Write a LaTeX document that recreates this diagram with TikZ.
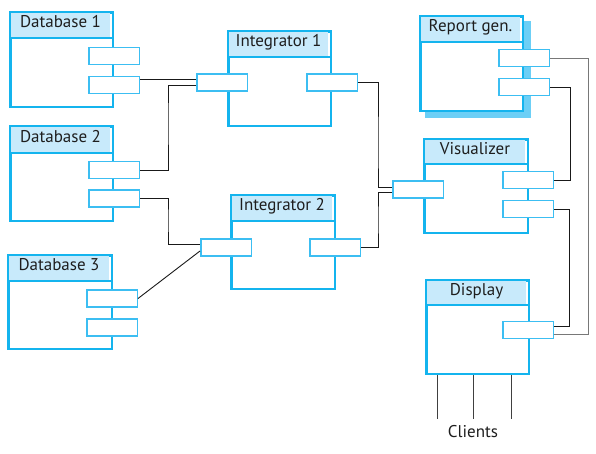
\documentclass[tikz,border=0pt]{standalone}
\usepackage{fontspec}
\setmainfont{PT Sans}
\definecolor{cyanb}{RGB}{20,180,238}
\definecolor{hdrc}{RGB}{200,234,251}
\definecolor{portc}{RGB}{60,190,242}
\definecolor{shadc}{RGB}{108,207,246}
\definecolor{greyw}{RGB}{120,120,120}
\definecolor{txtc}{RGB}{30,30,30}
\tikzset{
  compbox/.style={draw=cyanb, line width=2.8pt, fill=white, inner sep=0pt, anchor=north west},
  hdrfill/.style={fill=hdrc, draw=none, inner sep=0pt, anchor=north west},
  hdrline/.style={draw=cyanb, line width=1.4pt},
  ttl/.style={text=txtc, font=\fontsize{17}{19}\selectfont, text height=0.7em, text depth=0pt, inner sep=0pt},
  port/.style={draw=portc, line width=1.5pt, fill=white, inner sep=0pt, minimum width=50.5pt, minimum height=17.2pt},
  wire/.style={draw=black!90, line width=0.9pt},
  gwire/.style={draw=greyw, line width=0.9pt},
  cwire/.style={draw=black!75, line width=0.9pt},
}
\newcommand\mycomp[7]{%
  \node[compbox, minimum width={(#4-#2-2.8)*1pt}, minimum height={(#5-#3-2.8)*1pt}] (#1) at ({#2+1.4},{#3+1.4}) {};
  \node[hdrfill, minimum width={(#4-#2-5.6)*1pt}, minimum height={(#6-#3-2.8)*1pt}] (#1h) at ({#2+2.8},{#3+2.8}) {};
  \draw[hdrline] ({#2+1},#6) -- ({#4-1},#6);
  \node[ttl] (#1t) at ({(#2+#4)/2},{(#3+#6)/2}) {#7};
}
\begin{document}
\begin{tikzpicture}[x=1pt,y=-1pt]
\useasboundingbox (0,0) rectangle (596,453);
% shadow of report generator
\fill[shadc] (425,21) rectangle (530.5,118);
% components
\mycomp{db1}{8}{10}{113}{107}{38}{Database 1}
\mycomp{db2}{8}{124}{113}{221}{153}{Database 2}
\mycomp{db3}{6}{253}{112}{349}{281}{Database 3}
\mycomp{ia}{226}{29}{331}{126}{57}{Integrator 1}
\mycomp{ib}{229}{193}{335}{289}{221}{Integrator 2}
\mycomp{rg}{418}{14}{523}{111}{42}{Report gen.}
\mycomp{vis}{422}{137}{528}{233}{164}{Visualizer}
\mycomp{disp}{424}{278}{529}{374}{305}{Display}
% ports
\node[port] (db1pa) at (114,56) {};
\node[port] (db1pb) at (114,85) {};
\node[port] (db2pa) at (114,170) {};
\node[port] (db2pb) at (114,198.5) {};
\node[port] (db3pa) at (112,298.5) {};
\node[port] (db3pb) at (112,327.5) {};
\node[port] (iaL) at (222,82.5) {};
\node[port] (iaR) at (332,82.5) {};
\node[port] (ibL) at (226,247.5) {};
\node[port] (ibR) at (335,247.5) {};
\node[port] (rgpa) at (524,58) {};
\node[port] (rgpb) at (524,87) {};
\node[port] (visL) at (418,189.5) {};
\node[port] (visRa) at (528,180) {};
\node[port] (visRb) at (528,209) {};
\node[port] (dispP) at (528,330) {};
% connectors
\draw[wire] ([yshift=6pt]db1pb.east) -- ([yshift=3.5pt]iaL.west);
\draw[wire] (db2pa.east) -| (168,120) |- ([yshift=-2.5pt]iaL.west);
\draw[wire] (db2pb.east) -| (168,220) |- ([yshift=3.5pt]ibL.west);
\draw[wire] (db3pa.east) -- ([yshift=-3.5pt]ibL.west);
\draw[wire] (iaR.east) -| (378,150) |- ([yshift=2.5pt]visL.west);
\draw[wire] (ibR.east) -| (378,220) |- ([yshift=-2.5pt]visL.west);
\draw[gwire] (rgpa.east) -| (588,200) |- ([yshift=-4pt]dispP.east);
\draw[wire] (rgpb.east) -| (570,130) |- (visRa.east);
\draw[wire] (visRb.east) -| (569,260) |- ([yshift=4pt]dispP.east);
% clients
\coordinate (cla) at (437,419);
\coordinate (clb) at (473,419);
\coordinate (clc) at (511,419);
\draw[cwire] (disp.south -| cla) -- (cla);
\draw[cwire] (disp.south -| clb) -- (clb);
\draw[cwire] (disp.south -| clc) -- (clc);
\node[ttl] (clients) at (473,434) {Clients};
\end{tikzpicture}
\end{document}
